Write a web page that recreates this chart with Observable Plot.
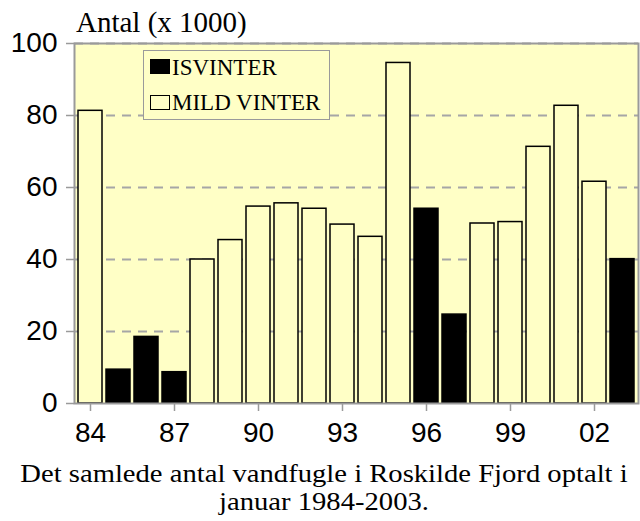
<!DOCTYPE html>
<html>
<head>
<meta charset="utf-8">
<script src="https://cdn.jsdelivr.net/npm/d3@7"></script>
<script src="https://cdn.jsdelivr.net/npm/@observablehq/plot@0.6"></script>
<style>
  html, body { margin: 0; padding: 0; background: #ffffff; }
  #wrap { position: relative; width: 640px; height: 521px; overflow: hidden; }
  #chart { position: absolute; left: 0; top: 0; }
  #title { position: absolute; left: 76px; top: 8px; font: 29px "Liberation Serif", serif; line-height: 29px; white-space: nowrap; color: #000; }
  .cap { position: absolute; left: 0; width: 648px; height: 24px; text-align: center; font: 25px "Liberation Serif", serif; line-height: 24px; color: #000; white-space: nowrap; transform: scaleX(1.145); transform-origin: 324px 50%; }
  #legend { position: absolute; left: 143px; top: 50px; width: 185px; height: 68px; border: 1px solid #9a9a9a; background: #ffffc6; }
  .sw { position: absolute; left: 6px; width: 18px; height: 13px; border: 1.5px solid #000; }
  .lt { position: absolute; left: 28px; font: 23px "Liberation Serif", serif; line-height: 22px; white-space: nowrap; color: #000; }
  svg g[aria-label="y-axis tick"] path, svg g[aria-label="x-axis tick"] path { stroke: #9a9a9a; stroke-width: 1.5; }
</style>
</head>
<body>
<div id="wrap">
  <div id="chart"></div>
  <div id="title">Antal (x 1000)</div>
  <div id="legend"></div>
  <div id="caption"></div>
</div>
<script>
// ---- data ----
const years = [1984, 1985, 1986, 1987, 1988, 1989, 1990, 1991, 1992, 1993,
               1994, 1995, 1996, 1997, 1998, 1999, 2000, 2001, 2002, 2003];
const counts = [81.3, 9.4, 18.5, 8.7, 40.0, 45.4, 54.7, 55.6, 54.1, 49.7,
                46.3, 94.6, 54.1, 24.7, 50.0, 50.4, 71.3, 82.7, 61.6, 40.1];
const winterType = ["mild", "is", "is", "is", "mild", "mild", "mild", "mild", "mild", "mild",
                    "mild", "mild", "is", "is", "mild", "mild", "mild", "mild", "mild", "is"];
const legendLabels = ["ISVINTER", "MILD VINTER"];
const yTicks = [0, 20, 40, 60, 80, 100];
const xTicks = [1984, 1987, 1990, 1993, 1996, 1999, 2002];
const captionLines = ["Det samlede antal vandfugle i Roskilde Fjord optalt i", "januar 1984-2003."];

const data = years.map((y, i) => ({year: y, value: counts[i], type: winterType[i]}));

const bg = "#ffffc6";
const chart = Plot.plot({
  width: 640,
  height: 450,
  marginLeft: 74,
  marginRight: 2,
  marginTop: 43,
  marginBottom: 47,
  style: {fontFamily: "'Liberation Sans', Arial, sans-serif", fontSize: "28px", background: "transparent", color: "#000"},
  x: {type: "band", domain: years, padding: 0, ticks: xTicks, tickFormat: d => String(d).slice(2), tickSize: 8, tickPadding: 11, label: null},
  y: {domain: [0, 100], ticks: yTicks, tickSize: 8, tickPadding: 9, label: null},
  marks: [
    Plot.frame({fill: bg, stroke: null}),
    Plot.gridY(yTicks.filter(t => t > 0), {stroke: "#a6a6a6", strokeOpacity: 1, strokeWidth: 2, strokeDasharray: "9,7"}),
    Plot.barY(data, {x: "year", y: "value", fill: d => d.type === "is" ? "#000000" : bg, stroke: "#000", strokeWidth: 1.5, insetLeft: 2, insetRight: 2}),
    Plot.frame({stroke: "#9a9a9a", strokeWidth: 2})
  ]
});
document.getElementById("chart").appendChild(chart);

// legend
const leg = document.getElementById("legend");
legendLabels.forEach((lab, i) => {
  const sw = document.createElement("div");
  sw.className = "sw";
  sw.style.top = (8 + i * 36) + "px";
  sw.style.background = i === 0 ? "#000" : bg;
  leg.appendChild(sw);
  const t = document.createElement("div");
  t.className = "lt";
  t.style.top = (6 + i * 35) + "px";
  t.textContent = lab;
  leg.appendChild(t);
});

// caption
const capEl = document.getElementById("caption");
captionLines.forEach((line, i) => {
  const d = document.createElement("div");
  d.className = "cap";
  d.style.top = (462 + i * 28) + "px";
  d.textContent = line;
  capEl.appendChild(d);
});
</script>
</body>
</html>
